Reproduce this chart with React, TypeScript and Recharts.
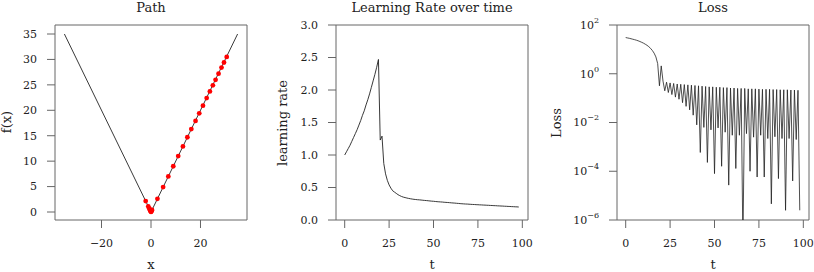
import React from "react";
import {
  ComposedChart,
  LineChart,
  Line,
  Scatter,
  XAxis,
  YAxis,
  ReferenceArea,
  Label,
} from "recharts";

const FONT = "DejaVu Serif";
const AXIS = "#666";
const INK = "#222";

// panel 1: f(x) = |x| and the visited points
const curveX = [-35, 0, 35];
const curveF = [35, 0, 35];
const pathX = [
  30.6, 29.5, 28.5, 27.3, 26.1, 25.0, 23.8, 22.5, 21.0, 19.5, 18.0, 16.3, 14.7,
  12.9, 11.0, 9.0, 7.0, 4.9, 2.6, -2.15, -1.1, -0.7, -0.45, -0.2, 0.0, 0.3, 0.4,
  -0.3, 0.15,
];
const pathF = [
  30.5, 29.4, 28.4, 27.2, 26.0, 24.9, 23.7, 22.4, 20.9, 19.4, 17.9, 16.3, 14.7,
  12.9, 11.0, 9.0, 7.0, 4.9, 2.6, 2.15, 1.1, 0.7, 0.45, 0.2, 0.02, 0.3, 0.4,
  0.3, 0.15,
];
const pathTicksX = [-20, 0, 20];
const pathTicksY = [0, 5, 10, 15, 20, 25, 30, 35];

// panel 2: learning rate per step (t = 0..98)
const learningRate = [
  1.0, 1.05, 1.1, 1.15, 1.21, 1.27, 1.33, 1.39, 1.46, 1.53, 1.61, 1.68, 1.77,
  1.85, 1.94, 2.04, 2.14, 2.24, 2.35, 2.47, 1.23, 1.29, 0.87, 0.71, 0.61, 0.54,
  0.49, 0.45, 0.43, 0.41, 0.39, 0.375, 0.362, 0.352, 0.345, 0.338, 0.332, 0.327,
  0.322, 0.318, 0.315, 0.312, 0.31, 0.307, 0.304, 0.301, 0.299, 0.296, 0.293,
  0.29, 0.288, 0.285, 0.282, 0.28, 0.278, 0.276, 0.273, 0.271, 0.269, 0.267,
  0.264, 0.262, 0.26, 0.257, 0.255, 0.252, 0.25, 0.248, 0.246, 0.245, 0.243,
  0.241, 0.239, 0.238, 0.236, 0.235, 0.233, 0.232, 0.23, 0.229, 0.227, 0.226,
  0.224, 0.223, 0.221, 0.22, 0.218, 0.217, 0.215, 0.214, 0.212, 0.211, 0.209,
  0.208, 0.206, 0.205, 0.203, 0.202, 0.2,
];

// panel 3: loss per step (t = 0..98)
const loss = [
  30.6, 29.5, 28.5, 27.3, 26.1, 25.0, 23.8, 22.5, 21.0, 19.5, 18.0, 16.3, 14.7,
  12.9, 11.0, 9.0, 7.0, 4.9, 2.6, 0.32, 2.1, 0.5, 0.2, 0.45, 0.17, 0.42, 0.14,
  0.4, 0.11, 0.38, 0.09, 0.37, 0.065, 0.36, 0.046, 0.35, 0.033, 0.34, 0.02, 0.33,
  0.008, 0.32, 5.9e-4, 0.31, 6.3e-3, 0.3, 2.3e-4, 0.29, 5e-3, 0.29, 8e-5, 0.28,
  6e-3, 0.28, 1.6e-4, 0.27, 4e-3, 0.27, 2.7e-5, 0.26, 3e-3, 0.26, 1.3e-4, 0.25,
  3e-3, 0.25, 1e-7, 0.25, 3.5e-3, 0.24, 1e-4, 0.24, 2.5e-3, 0.24, 5.8e-5, 0.235,
  3e-3, 0.23, 5.8e-5, 0.23, 2.2e-3, 0.23, 4.6e-6, 0.225, 2.6e-3, 0.225, 5e-5,
  0.22, 2.2e-3, 0.22, 2.5e-6, 0.22, 2.2e-3, 0.215, 4e-5, 0.215, 2e-3, 0.21,
  2.5e-6,
];
const stepTicks = [0, 25, 50, 75, 100];
const lrTicks = [0, 0.5, 1, 1.5, 2, 2.5, 3];
const lossTicks = [1e-6, 1e-4, 1e-2, 1, 100];

const curve = curveX.map((x, i) => ({ x, f: curveF[i] }));
const pathPoints = pathX.map((x, i) => ({ x, f: pathF[i] }));
const lrData = learningRate.map((lr, t) => ({ t, lr }));
const lossData = loss.map((v, t) => ({ t, loss: v }));

const tickStyle = { fill: INK, fontSize: 11, fontFamily: FONT };
const minus = (v: number) => String(v).replace("-", "\u2212");

const axisText = (text: string, x: number, y: number, rotate = false) => () => (
  <text
    x={x}
    y={y}
    textAnchor="middle"
    fontSize={13}
    fontFamily={FONT}
    fill={INK}
    transform={rotate ? `rotate(-90 ${x} ${y})` : undefined}
  >
    {text}
  </text>
);

const LogTick = (props: any) => {
  const { x, y, payload } = props;
  const e = Math.round(Math.log10(payload.value));
  return (
    <text x={x} y={y} textAnchor="end" fill={INK} fontSize={11} fontFamily={FONT}>
      <tspan dy="0.355em">10</tspan>
      <tspan dy="-0.75em" fontSize={8}>
        {e < 0 ? "\u2212" + -e : e}
      </tspan>
    </text>
  );
};

const Title = ({ text, center }: { text: string; center: number }) => (
  <div
    style={{
      position: "absolute",
      left: center - 150,
      width: 300,
      top: 0,
      textAlign: "center",
      fontFamily: FONT,
      fontSize: 13,
      lineHeight: "15px",
      color: INK,
    }}
  >
    {text}
  </div>
);

const H = 272;

export default function App() {
  return (
    <div style={{ position: "absolute", left: 0, top: 0, width: 814, height: H, background: "#fff" }}>
      <div style={{ position: "absolute", left: 0, top: 0 }}>
        <ComposedChart width={271} height={H} margin={{ top: 25, right: 24, bottom: 22, left: 15 }}>
          <XAxis
            dataKey="x"
            type="number"
            domain={[-38.8, 38.8]}
            ticks={pathTicksX}
            tickFormatter={minus}
            axisLine={false}
            stroke={AXIS}
            tickSize={8}
            tickMargin={11}
            tick={tickStyle}
            height={30}
            allowDataOverflow
          >
            <Label content={axisText("x", 151, 269)} />
          </XAxis>
          <YAxis
            type="number"
            domain={[-1.57, 36.77]}
            ticks={pathTicksY}
            axisLine={false}
            stroke={AXIS}
            tickSize={8}
            tickMargin={10}
            tick={tickStyle}
            width={40}
            allowDataOverflow
          >
            <Label content={axisText("f(x)", 10.5, 122, true)} />
          </YAxis>
          <ReferenceArea x1={-38.8} x2={38.8} y1={-1.57} y2={36.77} fill="none" stroke={AXIS} />
          <Line data={curve} dataKey="f" stroke={INK} strokeWidth={0.9} dot={false} activeDot={false} isAnimationActive={false} />
          <Scatter
            data={pathPoints}
            dataKey="f"
            fill="#ff0000"
            isAnimationActive={false}
            shape={(p: any) => <circle cx={p.cx} cy={p.cy} r={2.4} fill="#ff0000" />}
          />
        </ComposedChart>
      </div>

      <div style={{ position: "absolute", left: 271, top: 0 }}>
        <LineChart width={271} height={H} data={lrData} margin={{ top: 25, right: 14, bottom: 22, left: 25 }}>
          <XAxis
            dataKey="t"
            type="number"
            domain={[-4.9, 103.2]}
            ticks={stepTicks}
            axisLine={false}
            stroke={AXIS}
            tickSize={8}
            tickMargin={11}
            tick={tickStyle}
            height={30}
            allowDataOverflow
          >
            <Label content={axisText("t", 161, 269)} />
          </XAxis>
          <YAxis
            type="number"
            domain={[0, 3]}
            ticks={lrTicks}
            tickFormatter={(v: number) => v.toFixed(1)}
            axisLine={false}
            stroke={AXIS}
            tickSize={8}
            tickMargin={10}
            tick={tickStyle}
            width={40}
            allowDataOverflow
          >
            <Label content={axisText("learning rate", 16, 123, true)} />
          </YAxis>
          <ReferenceArea x1={-4.9} x2={103.2} y1={0} y2={3} fill="none" stroke={AXIS} />
          <Line dataKey="lr" stroke={INK} strokeWidth={0.9} dot={false} activeDot={false} isAnimationActive={false} />
        </LineChart>
      </div>

      <div style={{ position: "absolute", left: 542, top: 0 }}>
        <LineChart width={272} height={H} data={lossData} margin={{ top: 25, right: 5, bottom: 22, left: 35 }}>
          <XAxis
            dataKey="t"
            type="number"
            domain={[-4.9, 103.2]}
            ticks={stepTicks}
            axisLine={false}
            stroke={AXIS}
            tickSize={8}
            tickMargin={11}
            tick={tickStyle}
            height={30}
            allowDataOverflow
          >
            <Label content={axisText("t", 171, 269)} />
          </XAxis>
          <YAxis
            type="number"
            scale="log"
            domain={[1e-6, 100]}
            ticks={lossTicks}
            axisLine={false}
            stroke={AXIS}
            tickSize={8}
            tickMargin={10}
            tick={<LogTick />}
            width={40}
            allowDataOverflow
          >
            <Label content={axisText("Loss", 19, 123, true)} />
          </YAxis>
          <ReferenceArea x1={-4.9} x2={103.2} y1={1e-6} y2={100} fill="none" stroke={AXIS} />
          <Line dataKey="loss" stroke={INK} strokeWidth={0.8} dot={false} activeDot={false} isAnimationActive={false} />
        </LineChart>
      </div>

      <Title text="Path" center={151} />
      <Title text="Learning Rate over time" center={432} />
      <Title text="Loss" center={713} />
    </div>
  );
}
